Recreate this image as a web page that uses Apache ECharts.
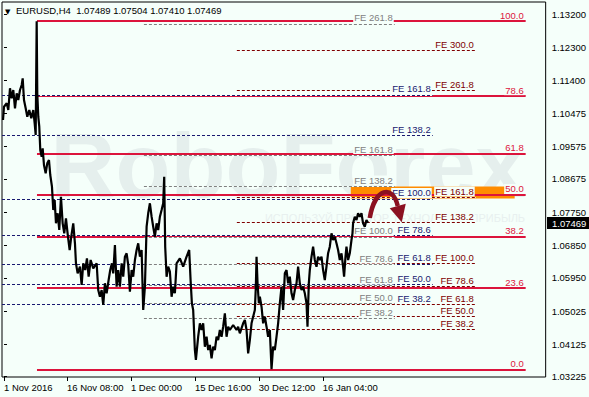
<!DOCTYPE html>
<html><head><meta charset="utf-8">
<script src="https://cdn.jsdelivr.net/npm/echarts@6/dist/echarts.min.js"></script>
<style>html,body{margin:0;padding:0;background:#f5fffa}#c{width:589px;height:397px}</style>
</head><body><div id="c"></div>
<script>
// ---- price path (bar index, price) ----
const barIdx = [-1,0,2.7,4.3,6,7.7,9.3,11,12.7,14.3,16,17.7,18.7,20,21.7,23.3,25.3,27.3,29.3,30.7,31.7,32.7,33.3,34.3,35.3,36.3,37.7,38.7,40,41.7,43.3,45,46.3,48,49.3,50.7,52,53.7,55.3,57,58.7,60.3,62,64,65.7,67.3,69.3,71,72,73.7,76,77.7,79.3,81.3,83,84.7,86.7,89.3,92.7,94.3,96,97.7,99.3,101,102.7,104.7,106.3,108,109.3,111,112.7,114.3,116,117.7,119.3,121,122.7,124.3,126,127.7,129.3,131,132.7,134.3,136,137.7,139.3,141,142.7,144.3,146,147.7,149.3,151,152.7,154.3,156,157.7,159.3,160.3,161.3,162.7,164.3,166,167.7,169.3,171,172.7,176,179.3,182.7,185.3,186.7,188,189.3,191,192,194.3,196,197.7,199.3,201,202.7,204.3,206,207.7,209.3,211,212.7,214.3,216,217.7,219.3,221,222.7,224.3,226,229.3,232.7,234.3,236,239.3,241,242.7,244.3,246,247.7,249.3,251,252,252.7,253.7,255,256,257.7,259.3,261,262.7,264.3,266,267.7,269.3,271,272.7,274.3,276,277.7,279.3,281,282.7,284.3,286,287.7,289.3,291,292.7,294.3,296,297.7,299.3,301,302.7,303.7,305,306,307.7,309.3,311,312.7,314.3,316,317.7,319.3,321,322.7,324.3,326,327.7,329.3,331,332.7,334.3,336,337.7,339.3,340.3,341.7,342.7,344.3,346,347.7,348.7,349.3,351,352.7,354.3,356,357.7,359.3,361,362.7,364.3];
const closes = [1.10298,1.10665,1.10759,1.10574,1.11172,1.10896,1.11125,1.10621,1.11034,1.10850,1.11125,1.11263,1.11447,1.10850,1.10621,1.10389,1.10574,1.10345,1.10574,1.10207,1.09885,1.13020,1.11034,1.10389,1.10114,1.09472,1.09287,1.09519,1.09058,1.08830,1.09105,1.09196,1.08783,1.08461,1.07818,1.08094,1.07452,1.07728,1.07267,1.08185,1.07452,1.07176,1.07590,1.07083,1.06716,1.07083,1.07452,1.06901,1.06350,1.06074,1.06256,1.05752,1.06350,1.06165,1.06487,1.05980,1.06441,1.06212,1.06350,1.05614,1.05429,1.05614,1.05201,1.05799,1.05523,1.05890,1.06165,1.06350,1.06074,1.06854,1.05705,1.06165,1.05705,1.06350,1.05980,1.06532,1.06625,1.06303,1.05567,1.06165,1.05980,1.06441,1.06716,1.06901,1.06532,1.06716,1.05063,1.05705,1.07358,1.07728,1.08003,1.07634,1.07358,1.07083,1.07452,1.07267,1.07634,1.07818,1.08003,1.08736,1.06807,1.05980,1.06256,1.06118,1.05429,1.05705,1.05523,1.06350,1.06487,1.06256,1.06532,1.06716,1.05890,1.05248,1.05063,1.03961,1.03685,1.04327,1.04697,1.04512,1.04697,1.04052,1.04327,1.03961,1.04099,1.03732,1.04052,1.03961,1.04327,1.04236,1.04512,1.04327,1.04603,1.04972,1.04327,1.04603,1.04512,1.04650,1.04512,1.04603,1.04421,1.04697,1.04787,1.04512,1.03870,1.04236,1.04697,1.04878,1.05063,1.05705,1.06532,1.05799,1.05248,1.05429,1.05154,1.04697,1.04878,1.04603,1.04327,1.04512,1.03430,1.04052,1.03961,1.04327,1.04697,1.05248,1.05705,1.05063,1.06074,1.06165,1.05799,1.05980,1.05523,1.05339,1.05614,1.05799,1.06256,1.05799,1.05614,1.05705,1.05523,1.05248,1.04603,1.05799,1.06165,1.06532,1.06807,1.06441,1.06256,1.06532,1.06441,1.06532,1.06165,1.05890,1.06256,1.06625,1.06807,1.07176,1.06992,1.07083,1.06901,1.06716,1.06441,1.06625,1.06256,1.05980,1.06532,1.06807,1.06441,1.06625,1.06992,1.07176,1.07452,1.07634,1.07543,1.07728,1.07634,1.07728,1.07452,1.07358,1.07543,1.07469];
const lastPrice = 1.07469;
const headerText = 'EURUSD,H4  1.07489 1.07504 1.07410 1.07469';

// ---- axes ----
const xTickIdx = [0, 63, 127, 191, 255, 319];
const xTickLabels = ['1 Nov 2016', '16 Nov 08:00', '1 Dec 00:00', '15 Dec 16:00', '30 Dec 12:00', '16 Jan 04:00'];
const yTicks = [1.13200, 1.12300, 1.11400, 1.10475, 1.09575, 1.08675, 1.07750, 1.06850, 1.05950, 1.05025, 1.04125, 1.03225];

// ---- Fibonacci retracement (red) ----
const fiboLabels = ['100.0', '78.6', '61.8', '50.0', '38.2', '23.6', '0.0'];
const fiboPrices = [1.13026, 1.10955, 1.09362, 1.08232, 1.07075, 1.05669, 1.03429];
const fiboRange = [33, 522];

// ---- Fibonacci expansions ----
const feGrayLabels = ['FE 261.8', 'FE 161.8', 'FE 138.2', 'FE 100.0', 'FE 78.6', 'FE 61.8', 'FE 50.0', 'FE 38.2'];
const feGrayPrices = [1.12944, 1.09334, 1.08466, 1.07075, 1.06317, 1.05738, 1.05255, 1.04842];
const feGrayRange = [140, 391];

const feNavyLabels = ['FE 161.8', 'FE 138.2', 'FE 100.0', 'FE 78.6', 'FE 61.8', 'FE 50.0', 'FE 38.2'];
const feNavyPrices = [1.10992, 1.09885, 1.08122, 1.07110, 1.06331, 1.05779, 1.05228];
const feNavyRange = [-2, 429];

const feMaroonLabels = ['FE 300.0', 'FE 261.8', 'FE 161.8', 'FE 138.2', 'FE 100.0', 'FE 78.6', 'FE 61.8', 'FE 50.0', 'FE 38.2'];
const feMaroonPrices = [1.12227, 1.11111, 1.08163, 1.07480, 1.06344, 1.05724, 1.05228, 1.04884, 1.04531];
const feMaroonRange = [233, 472];

// ---- target zone & arrow ----
const zoneX = [347, 511];
const zonePrices = [1.08466, 1.08135];
const arrowPts = [[366, 1.07598], [371, 1.08430], [389, 1.08530], [394, 1.07930], [398, 1.07480], [402, 1.07990], [386, 1.07870]];

const BG = '#f5fffa';
const FONT = 'Liberation Sans, Arial, sans-serif';

function levelSeries(name, labels, prices, range, color, dashed, width, z) {
  const lines = labels.map((lb, i) => [
    { name: lb, coord: [range[0], prices[i]] },
    { coord: [range[1], prices[i]] }
  ]);
  const res = [];
  if (dashed) {
    res.push({
      type: 'line', data: [], z: z - 0.5, silent: true,
      markLine: {
        silent: true, symbol: 'none', animation: false,
        lineStyle: { color: BG, width: width, type: 'solid' },
        label: { show: false }, data: lines.map(l => [{ coord: l[0].coord }, { coord: l[1].coord }])
      }
    });
  }
  res.push({
    name: name, type: 'line', data: [], z: z, silent: true,
    markLine: {
      silent: true, symbol: 'none', animation: false,
      lineStyle: { color: color, width: width, type: dashed ? [3, 2] : 'solid' },
      label: {
        show: true, position: 'insideEndTop', distance: 1, formatter: '{b}',
        color: color, fontFamily: FONT, fontSize: 9.5, lineHeight: 10,
        backgroundColor: BG, padding: [0, 1]
      },
      emphasis: { disabled: true },
      data: lines
    }
  });
  return res;
}

const chart = echarts.init(document.getElementById('c'), null, { renderer: 'svg', width: 589, height: 397 });

const option = {
  animation: false,
  backgroundColor: BG,
  textStyle: { fontFamily: FONT },
  title: {
    text: headerText, left: 16, top: 5, padding: 0,
    textStyle: { fontFamily: FONT, fontSize: 9.5, fontWeight: 'normal', color: '#000' }
  },
  grid: { left: 2, top: 2, right: 43, bottom: 20, show: true, borderColor: '#000', borderWidth: 1, backgroundColor: 'transparent' },
  xAxis: {
    type: 'value', min: -2, max: 542,
    axisLine: { show: false }, splitLine: { show: false },
    axisTick: { show: true, customValues: xTickIdx, length: 4, lineStyle: { color: '#000' } },
    axisLabel: {
      customValues: xTickIdx, align: 'left', margin: 5, color: '#000', fontFamily: FONT, fontSize: 9.5,
      formatter: v => xTickLabels[xTickIdx.indexOf(v)] || ''
    }
  },
  yAxis: {
    type: 'value', position: 'right', min: 1.03217, max: 1.13550, scale: true,
    axisLine: { show: false }, splitLine: { show: false },
    axisTick: { show: true, customValues: yTicks, length: 3, lineStyle: { color: '#000' } },
    axisLabel: {
      customValues: yTicks, margin: 6, color: '#000', fontFamily: FONT, fontSize: 9.5,
      formatter: v => v.toFixed(5)
    }
  },
  series: [
    {
      type: 'line', data: [], z: 1, silent: true,
      markArea: {
        silent: true, itemStyle: { color: '#ff8c00' },
        data: [[{ coord: [zoneX[0], zonePrices[0]] }, { coord: [zoneX[1], zonePrices[1]] }]]
      }
    },
    ...levelSeries('fibo', fiboLabels, fiboPrices, fiboRange, '#dc143c', false, 2, 2),
    ...levelSeries('feNavy', feNavyLabels, feNavyPrices, feNavyRange, '#191970', true, 1, 3),
    ...levelSeries('feGray', feGrayLabels, feGrayPrices, feGrayRange, '#808080', true, 1, 4),
    ...levelSeries('feMaroon', feMaroonLabels, feMaroonPrices, feMaroonRange, '#800000', true, 1, 5),
    {
      name: 'EURUSD', type: 'line', z: 10, silent: true,
      data: barIdx.map((x, i) => [x, closes[i]]),
      showSymbol: false, symbol: 'none',
      lineStyle: { color: '#000', width: 2.2 }
    }
  ]
};
chart.setOption(option);

const P = p => chart.convertToPixel({ gridIndex: 0 }, p);
const a = arrowPts.map(P);
const lastY = P([0, lastPrice])[1];
chart.setOption({
  graphic: [
    {
      type: 'text', z: -10, silent: true,
      style: { text: 'RoboForex', x: 288, y: 166, fontFamily: FONT, fontSize: 90, fontWeight: 'bold', fill: '#e5efed', align: 'center', verticalAlign: 'middle' }
    },
    {
      type: 'text', z: -10, silent: true,
      style: { text: 'ИСПОЛЬЗУЙ ПРОСТОР ТЕХНОЛОГИЙ ПРИБЫЛЬ', x: 395, y: 218, fontFamily: FONT, fontSize: 11, fill: '#e8f0ef', align: 'center', verticalAlign: 'middle' }
    },
    {
      type: 'text', silent: true,
      style: { text: '▼', x: 5, y: 8, fontFamily: 'DejaVu Sans', fontSize: 7, fill: '#000' }
    },
    {
      type: 'rect', silent: true, z: 20,
      shape: { x: 547, y: Math.round(lastY) - 6, width: 42, height: 12 },
      style: { fill: '#000' }
    },
    {
      type: 'text', silent: true, z: 21,
      style: { text: lastPrice.toFixed(5), x: 552, y: Math.round(lastY), fontFamily: FONT, fontSize: 9.5, fill: '#fff', verticalAlign: 'middle' }
    },
    {
      type: 'bezierCurve', z: 50, silent: true,
      shape: { x1: a[0][0], y1: a[0][1], cpx1: a[1][0], cpy1: a[1][1], cpx2: a[2][0], cpy2: a[2][1], x2: a[3][0], y2: a[3][1] },
      style: { stroke: '#8b1121', lineWidth: 4.5, fill: null }
    },
    {
      type: 'polygon', z: 50, silent: true,
      shape: { points: [a[4], a[5], a[6]] },
      style: { fill: '#8b1121' }
    }
  ]
});
</script>
</body></html>
